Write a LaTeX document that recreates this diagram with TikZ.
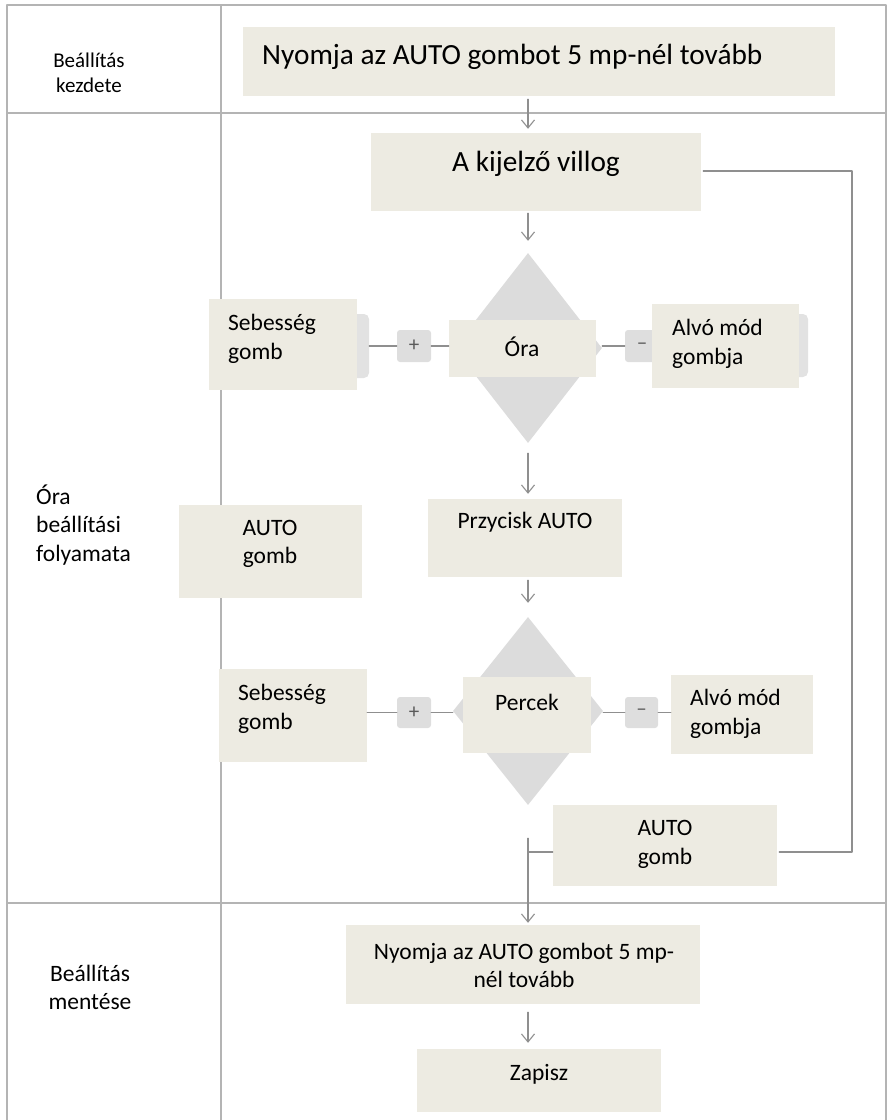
\documentclass[tikz,border=0pt]{standalone}
\usepackage{fontspec}
\setmainfont{Carlito}
\usepackage{tikz}
\usetikzlibrary{arrows.meta,shapes.geometric}
\definecolor{fcFill}{HTML}{EDEBE2}
\definecolor{fcDiamond}{HTML}{DCDCDC}
\definecolor{fcSign}{HTML}{DEDEDE}
\definecolor{fcShadow}{HTML}{E2E2E2}
\definecolor{fcLine}{HTML}{8F8F8F}
\definecolor{fcLane}{HTML}{B4B4B4}
\definecolor{fcMark}{HTML}{5A5A5A}
\newcommand\fcBig{\fontsize{29.3}{35}\selectfont}
\newcommand\fcMid{\fontsize{23.5}{28.5}\selectfont}
\newcommand\fcSmall{\fontsize{21}{25}\selectfont}
\tikzset{
  fc diagram/.style={x=1pt, y=-1pt, line cap=round, line join=round},
  fc box/.style={fill=fcFill, draw=none, inner sep=0pt},
  fc diamond/.style={diamond, fill=fcDiamond, draw=none, inner sep=0pt,
    minimum width=148pt, minimum height=190pt},
  fc sign/.style={fill=fcSign, rounded corners=3pt, inner sep=0pt,
    minimum width=34pt, minimum height=32pt, text=fcMark,
    font=\fontsize{21}{24}\selectfont},
  fc shadow/.style={fill=fcShadow, rounded corners=5pt, inner sep=0pt},
  fc text/.style={font=\fcMid, inner sep=0pt, align=center},
  fc arrow/.style={-{Straight Barb[length=8pt,width=13pt]}, draw=fcLine, line width=1.1pt},
  fc line/.style={draw=fcLine, line width=1.1pt},
  fc lane/.style={draw=fcLane, line width=1.4pt}
}
\begin{document}
\begin{tikzpicture}[fc diagram]
\useasboundingbox (0,0) rectangle (890,1120);
\coordinate (spine) at (528,0);
\coordinate (loop) at (852,0);
% swimlanes
\draw[fc lane] (7,1120) -- (7,5) -- (886,5) -- (886,1120);
\draw[fc lane] (221,5) -- (221,1120);
\draw[fc lane] (7,113) -- (886,113);
\draw[fc lane] (7,903) -- (886,903);
\node[fc text, font=\fcSmall] (lane-a) at (89,72.5) {Beállítás\\kezdete};
\node[fc text, align=left, anchor=west] (lane-b) at (36,525) {Óra\\beállítási\\folyamata};
\node[fc text] (lane-c) at (90,987.5) {Beállítás\\mentése};

% start
\node[fc box, minimum width=592pt, minimum height=69pt] (start) at (539,61.5) {};
\node[fc text, font=\fcBig, anchor=west] (start-t) at (262,57) {Nyomja az AUTO gombot 5 mp-nél tovább};
\node[fc box, minimum width=330pt, minimum height=78pt] (disp) at (536,172) {};
\node[fc text, font=\fcBig] (disp-t) at (536,164) {A kijelző villog};

% hours
\node[fc diamond] (hour) at (528,348) {};
\node[fc shadow, minimum width=24pt, minimum height=64pt] (speedA-sh) at (357,346) {};
\node[fc box, minimum width=148pt, minimum height=91pt] (speedA) at (283,344.5) {};
\node[fc text, align=left, anchor=west] (speedA-t) at (228,339) {Sebesség\\gomb};
\node[fc sign] (plusA) at (414,346) {+};
\node[fc box, minimum width=147pt, minimum height=57pt] (hourbox) at (522.5,348.5) {};
\node[fc text] (hour-t) at (522,347) {Óra};
\node[fc sign] (minusA) at (642,346) {–};
\node[fc shadow, minimum width=18pt, minimum height=63pt] (sleepA-sh) at (799,345.5) {};
\node[fc box, minimum width=147pt, minimum height=84pt] (sleepA) at (725.5,346) {};
\node[fc text, align=left, anchor=west] (sleepA-t) at (672,344) {Alvó mód\\gombja};

\node[fc box, minimum width=183pt, minimum height=93pt] (autoL) at (270.5,551.5) {};
\node[fc text] (autoL-t) at (270,544) {AUTO\\gomb};
\node[fc box, minimum width=194pt, minimum height=78pt] (push) at (525,538) {};
\node[fc text] (push-t) at (525,522) {Przycisk AUTO};

% minutes
\node[fc diamond, minimum width=150pt, minimum height=188pt] (mins) at (528,711) {};
\node[fc box, minimum width=128pt, minimum height=76pt] (minsbox) at (527,715) {};
\node[fc text] (mins-t) at (527,702) {Percek};
\node[fc box, minimum width=148pt, minimum height=93pt] (speedB) at (293,715.5) {};
\node[fc text, align=left, anchor=west] (speedB-t) at (238,709) {Sebesség\\gomb};
\node[fc sign, minimum height=31pt] (plusB) at (414,712.5) {+};
\node[fc sign, minimum width=33pt, minimum height=31pt] (minusB) at (641.5,712.5) {–};
\node[fc box, minimum width=142pt, minimum height=79pt] (sleepB) at (742,714.5) {};
\node[fc text, align=left, anchor=west] (sleepB-t) at (690,714) {Alvó mód\\gombja};
\node[fc box, minimum width=224pt, minimum height=81pt] (autoR) at (665,845.5) {};
\node[fc text] (autoR-t) at (665,844.5) {AUTO\\gomb};

% save
\node[fc box, minimum width=354pt, minimum height=79pt] (save) at (523,964.5) {};
\node[fc text] (save-t) at (524,965.5) {Nyomja az AUTO gombot 5 mp-\\nél tovább};
\node[fc box, minimum width=244pt, minimum height=63pt] (write) at (539,1080.5) {};
\node[fc text] (write-t) at (539,1074) {Zapisz};

% flow
\draw[fc arrow] ([yshift=-3pt]spine |- start.south) -- ([yshift=4pt]spine |- disp.north);
\draw[fc arrow] ([yshift=-2pt]spine |- disp.south) -- ([yshift=12pt]hour.north);
\draw[fc arrow] ([yshift=-10pt]hour.south) -- ([yshift=5pt]spine |- push.north);
\draw[fc arrow] ([yshift=-3pt]spine |- push.south) -- ([yshift=14pt]mins.north);
\draw[fc arrow] ([yshift=-33pt]mins.south) -- ([yshift=2pt]spine |- save.north);
\draw[fc arrow] ([yshift=-8pt]spine |- save.south) -- ([yshift=6pt]spine |- write.north);
\draw[fc line] ([yshift=-6.5pt]autoR.west) -- ([yshift=-6.5pt]spine |- autoR.west);
\draw[fc line] ([xshift=2pt,yshift=-6.5pt]autoR.east) -| ([yshift=1pt]loop |- disp.east) -- ([xshift=2pt,yshift=1pt]disp.east);

% buttons
\draw[fc line] (speedA-sh) -- (plusA);
\draw[fc line] (plusA) -- (hourbox.west |- plusA);
\draw[fc line] (hour.east |- minusA) -- (minusA);
\draw[fc line] (speedB.east |- plusB) -- (plusB);
\draw[fc line] (plusB) -- (mins.west |- plusB);
\draw[fc line] (mins.east |- minusB) -- (minusB);
\draw[fc line] (minusB) -- (sleepB.west |- minusB);
\end{tikzpicture}
\end{document}
